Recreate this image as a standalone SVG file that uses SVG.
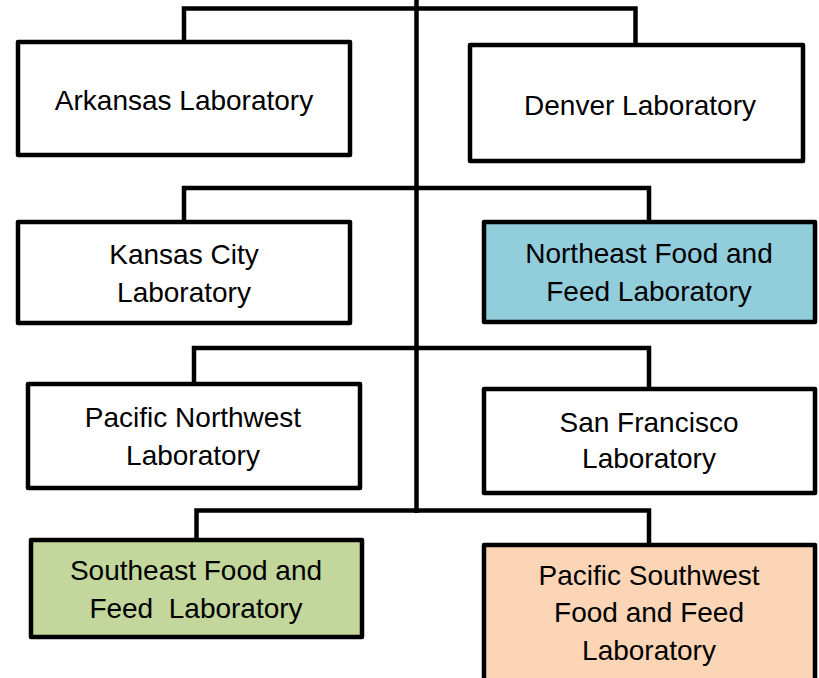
<svg xmlns="http://www.w3.org/2000/svg" width="819" height="678" viewBox="0 0 819 678">
<style>
.box{stroke:#000;stroke-width:4.5;stroke-linejoin:round}
.w{fill:#fff}.blue{fill:#92CDDC}.green{fill:#C3D69B}.orange{fill:#FBD5B5}
.conn{fill:none;stroke:#000;stroke-width:4.5;stroke-linejoin:miter}
text{font-family:"Liberation Sans",Arial,sans-serif;font-size:28px;fill:#000;text-anchor:middle;white-space:pre}
</style>
<rect width="819" height="678" fill="#fff"/>
<g id="connectors">
<path class="conn" d="M416.5 0 V513"/>
<path class="conn" d="M184 42 V8.5 H635.5 V45"/>
<path class="conn" d="M184 222 V188 H649 V222"/>
<path class="conn" d="M194 384 V348 H649 V389"/>
<path class="conn" d="M196.5 540 V510.5 H649 V545"/>
</g>
<g id="arkansas">
<rect class="box w" x="18" y="42" width="332" height="113"/>
<text x="184" y="110">Arkansas Laboratory</text>
</g>
<g id="denver">
<rect class="box w" x="470" y="45" width="333" height="116"/>
<text x="640" y="115">Denver Laboratory</text>
</g>
<g id="kansas-city">
<rect class="box w" x="18" y="222" width="332" height="101"/>
<text x="184" y="264">Kansas City</text>
<text x="184" y="302">Laboratory</text>
</g>
<g id="northeast">
<rect class="box blue" x="484" y="222" width="331" height="100"/>
<text x="649" y="263">Northeast Food and</text>
<text x="649" y="301">Feed Laboratory</text>
</g>
<g id="pacific-northwest">
<rect class="box w" x="28" y="384" width="332" height="104"/>
<text x="193" y="427">Pacific Northwest</text>
<text x="193" y="465">Laboratory</text>
</g>
<g id="san-francisco">
<rect class="box w" x="484" y="389" width="331" height="104"/>
<text x="649" y="432">San Francisco</text>
<text x="649" y="468">Laboratory</text>
</g>
<g id="southeast">
<rect class="box green" x="31" y="540" width="331" height="97"/>
<text x="196" y="580">Southeast Food and</text>
<text x="196" y="618">Feed  Laboratory</text>
</g>
<g id="pacific-southwest">
<rect class="box orange" x="484" y="545" width="331" height="145"/>
<text x="649" y="585">Pacific Southwest</text>
<text x="649" y="622">Food and Feed</text>
<text x="649" y="660">Laboratory</text>
</g>
</svg>
